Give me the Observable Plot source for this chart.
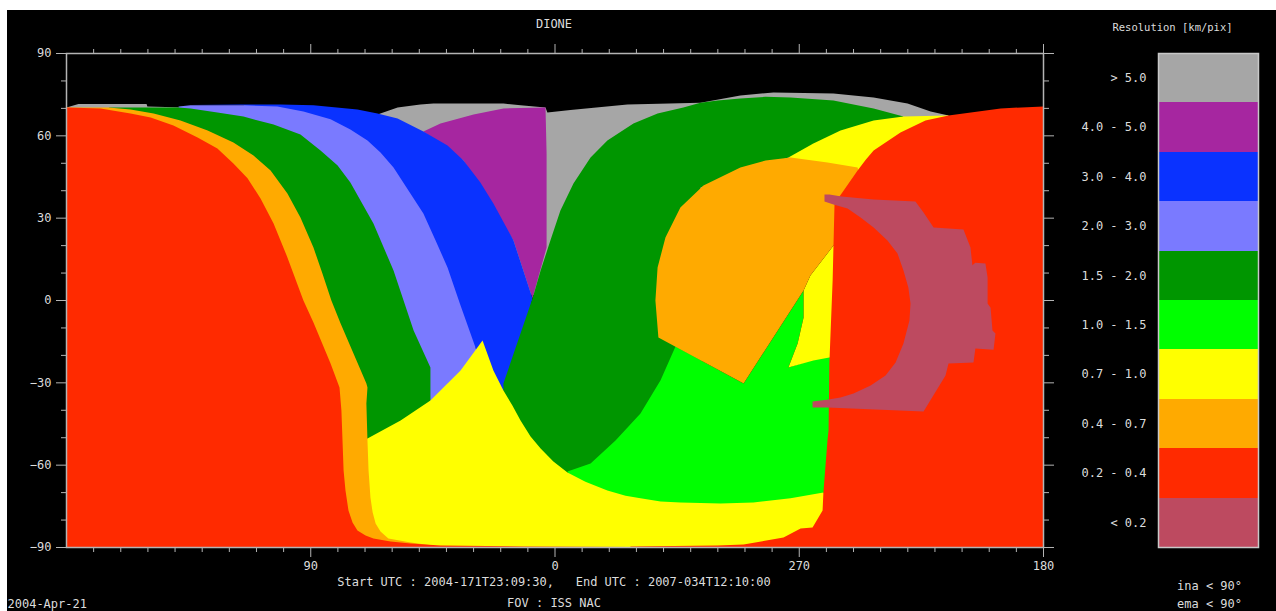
<!DOCTYPE html>
<html><head><meta charset="utf-8">
<script src="https://cdn.jsdelivr.net/npm/d3@7"></script>
<script src="https://cdn.jsdelivr.net/npm/@observablehq/plot@0.6"></script>
<style>
html,body{margin:0;padding:0;background:#fff;width:1276px;height:611px;overflow:hidden}
#map{position:absolute;left:7px;top:10px}
#key{position:absolute;left:1076px;top:10px}
svg{display:block}
</style></head><body>
<div id="map"></div><div id="key"></div>
<script>
// Longitude position along the map axis (0..360, labelled 180,90,0,270,180) and latitude
const gray=[[0,70.3],[4.4,71.6],[29.5,71.6],[29.8,70.7],[86.2,69.2],[114.6,67.8],[122,70.3],[130.4,71.4],[135.2,71.8],[161,71.8],[167.3,71.1],[176.5,70.3],[177.2,68.5],[185.7,69.4],[206.7,71.4],[233.6,72.1],[248.3,74.7],[260.5,75.8],[282.6,75.4],[297.4,74],[309.9,71.8],[318.4,68.9],[325,67.4],[325,60],[196.8,0],[176.9,0],[86.2,36.4],[0,60]];
const purple=[[131.5,61.6],[137.8,64.5],[150,67.8],[161,70],[176.5,70.3],[176.9,53.6],[176.9,19.3],[171.7,0.7],[164.7,21.9],[146.3,51]];
const blue=[[45.7,71.2],[64.1,71.4],[78.9,71.4],[91,71.1],[107.2,69.6],[114.6,68.1],[122,66.3],[131.5,61.6],[140.4,56.5],[146.3,51],[152.5,43],[157.3,35.3],[164.7,21.9],[171.7,0.7],[166,-21.9],[161,-33],[156,-33],[150.7,-17.1],[123.1,0],[86.2,54.7],[65.2,71.1]];
const periwinkle=[[41.3,70.7],[45.7,71.1],[65.2,71.1],[77.7,70.7],[87.3,68.9],[97.3,66],[104.6,62.3],[110.9,58.3],[115.7,53.9],[120.5,48.5],[126,40.1],[131.5,31.7],[136,21.9],[140.4,12],[145.2,-1.8],[150.7,-17.1],[153.3,-25.5],[134.9,-40],[130,-36],[86.2,47.4],[41.3,70.3]];
const greenLeft=[[15.5,70.3],[29.8,70.3],[41.3,70.3],[45.7,70],[55.6,68.5],[65.2,67],[76.3,64.1],[86.2,60.5],[93.6,54.7],[99.9,49.2],[104.6,43],[113.1,28.1],[120.5,10.9],[127.9,-10.9],[134.1,-24.4],[134.1,-40],[105,-56],[90,0],[49.4,54.7]];
const greenMid=[[161,-30.2],[171.7,0.7],[174.7,10.9],[178.3,21.9],[182,32.8],[186.8,42.6],[193.1,52.1],[199.3,58.3],[208.9,64.5],[217.8,68.1],[227.3,70.3],[233.6,72.1],[239.9,72.9],[248.3,73.6],[257.6,74.2],[266.8,74],[282.6,72.9],[297.4,70],[308.4,67],[297.4,60.1],[266,52.1],[233.6,41.2],[235,-20],[225,-45],[205,-62],[193,-70],[184.6,-66],[175,-58],[165,-45],[161,-33.5]];
const lime=[[184.6,-62.3],[193.1,-59.4],[202.3,-51],[211.5,-41.2],[218.9,-29.1],[224.4,-16.8],[249.5,-30.2],[271.6,3.6],[271.6,-6.2],[269.4,-15.7],[266,-24.4],[275.2,-21.5],[285,-19.5],[285,-68],[279,-74],[266.8,-77],[253.1,-78],[226.2,-78],[211.5,-76],[199.3,-73],[188,-68]];
const yellowMain=[[105,-52],[110.9,-50.3],[123.1,-43.7],[134.1,-36.4],[145.2,-25.5],[153.3,-14.6],[157.3,-25.5],[161,-32.8],[164.3,-38.3],[167.3,-43.7],[171,-49.6],[174.7,-53.9],[179.4,-58.7],[184.6,-62.7],[191.2,-66],[199.3,-69.2],[206,-71.1],[211.5,-72.1],[218.9,-73.2],[226.2,-73.6],[241,-74],[253.1,-73.6],[266.8,-72.1],[278.9,-70],[282,-76.5],[278,-84],[270.5,-86],[264.2,-88],[249.5,-89.6],[207.8,-89.8],[168.4,-89.9],[137.8,-89.8],[105,-89]];
const yellowUpper=[[325,67.4],[308.4,67],[297.4,65.6],[285.2,61.9],[275.2,57.2],[266,52.1],[291.5,46],[300,48],[320,60]];
const yellowSmall=[[282.6,20],[274.1,9.1],[271.6,3.6],[271.6,-6.2],[269.4,-15.7],[266,-24.4],[275.2,-21.9],[285,-20],[285,20]];
const orangeLeft=[[0,70.3],[15.5,70.3],[23.6,69.6],[32.1,68.1],[42,65.6],[52,61.9],[61.5,57.6],[68.9,52.8],[75.2,47.4],[81.4,39],[86.2,30.2],[91,19.3],[94.3,9.8],[97.6,0],[101,-8.4],[110.5,-30.2],[110.9,-31.7],[110.5,-37.5],[110.9,-51],[111.3,-61.9],[112,-71.8],[112.8,-77.2],[113.9,-81.3],[115.7,-84.2],[118.6,-86.7],[126.8,-88.2],[137.8,-89.6],[86.2,-89.6],[0,-89.6]];
const orangeMid=[[218.1,-13.5],[217,0],[217.8,12],[220.7,23],[226.2,33.9],[234.7,41.9],[248.3,48.5],[257.6,51],[266.8,52.1],[280.4,50.3],[291.5,48.5],[296,30],[290,20],[282.6,20],[274.1,9.1],[271.6,3.6],[249.5,-30.2]];
const redLeft=[[0,70.3],[12.5,70],[23.6,68.1],[31,66.7],[39.4,63.8],[48.3,59.4],[55.6,55.4],[61.5,49.9],[66.7,44.5],[71.5,37.2],[76.3,28.1],[81.4,15.7],[87.3,0],[91,-8],[97.3,-23],[100.6,-31.7],[101.3,-40.1],[102.1,-61.9],[102.8,-69.2],[103.9,-76.5],[105.4,-80.9],[107.2,-83.8],[110.2,-85.6],[113.1,-86.7],[119.4,-87.8],[126.8,-88.5],[137.8,-89.3],[168.4,-89.6],[207.8,-89.8],[207.8,-90],[0,-90]];
const redRight=[[325,67.4],[344.2,70],[360,70.7],[360,-90],[207.8,-90],[207.8,-89.6],[239.9,-89.3],[249.5,-88.9],[264.2,-86.4],[270.5,-83.1],[274.9,-82.7],[278.6,-76.5],[278.9,-70],[280.4,-51],[280.8,-47.4],[281.1,-23],[282.3,7.3],[283,35.3],[285.6,39],[291.5,47.4],[294.5,51.3],[297.4,54.7],[307.3,61.2],[316.5,65.6]];
const rose=[[279.3,38.6],[281.1,38.6],[285.6,37.9],[297.4,36.8],[312.8,36.1],[315.8,32.1],[319.5,26.6],[330.5,25.9],[333.1,19.3],[333.8,12.8],[334.9,13.8],[338.6,13.5],[339.4,8.4],[339.4,-1.1],[340.5,-2.6],[341.2,-10.9],[342.3,-12],[341.6,-17.9],[334.9,-17.5],[334.2,-22.6],[325,-23],[323.9,-27.3],[315.8,-40.4],[280.4,-39],[274.9,-39],[274.9,-36.8],[280.8,-36.1],[285.2,-35.3],[290,-33.9],[296.3,-31],[301.8,-27.3],[305.5,-22.6],[308.4,-15.7],[310.6,-7.3],[311,-1.1],[310.2,4.7],[308.4,10.9],[306.2,17.1],[302.5,21.9],[297.4,26.6],[292.6,30.2],[287.8,33.5],[282.6,35],[279.3,36.1]];

const legendLabels=["> 5.0","4.0 - 5.0","3.0 - 4.0","2.0 - 3.0","1.5 - 2.0","1.0 - 1.5","0.7 - 1.0","0.4 - 0.7","0.2 - 0.4","< 0.2"];
const palette={gray:"#a6a6a6",purple:"#a626a0",blue:"#0a32ff",periwinkle:"#7a7aff",green:"#009600",lime:"#00ff00",yellow:"#ffff00",orange:"#ffaa00",red:"#ff2a00",rose:"#bd4a60"};
const legendColors=[palette.gray,palette.purple,palette.blue,palette.periwinkle,palette.green,palette.lime,palette.yellow,palette.orange,palette.red,palette.rose];

const xMajor=[90,180,270,360];
const xMajorLabels={90:"90",180:"0",270:"270",360:"180"};
const xMinor=d3.range(10,360,10).filter(d=>d%90!==0);
const yMajor=[-90,-60,-30,0,30,60,90];
const yMinor=d3.range(-80,90,10).filter(d=>d%30!==0);

const layers=[[gray,palette.gray],[purple,palette.purple],[blue,palette.blue],[periwinkle,palette.periwinkle],[greenLeft,palette.green],[greenMid,palette.green],[lime,palette.lime],[yellowSmall,palette.yellow],[yellowMain,palette.yellow],[yellowUpper,palette.yellow],[orangeLeft,palette.orange],[orangeMid,palette.orange],[redLeft,palette.red],[redRight,palette.red],[rose,palette.rose]];

const axisColor="#b4b4b4", textColor="#dcdcdc", blank=()=>"";
const font={fontFamily:"'DejaVu Sans Mono',monospace",fontSize:"12px",background:"black",color:textColor};
const label=(s,anchor,dx,dy,extra={})=>Plot.text([s],{frameAnchor:anchor,lineAnchor:"middle",dx,dy,fill:textColor,...extra});

const map=Plot.plot({
  width:1269,height:601,marginLeft:59,marginRight:233,marginTop:43,marginBottom:64,
  style:font,
  x:{domain:[0,360]},y:{domain:[-90,90]},
  marks:[
    ...layers.map(([pts,c])=>Plot.line(pts,{x:d=>d[0],y:d=>d[1],fill:c,stroke:"none"})),
    Plot.frame({stroke:axisColor,strokeWidth:1.5}),
    Plot.axisX(xMajor,{anchor:"bottom",tickSize:10,tickPadding:4,stroke:axisColor,fill:textColor,tickFormat:d=>xMajorLabels[d],label:null}),
    Plot.axisX(xMinor,{anchor:"bottom",tickSize:5,stroke:axisColor,tickFormat:blank,label:null}),
    Plot.axisX(xMajor,{anchor:"top",tickSize:10,stroke:axisColor,tickFormat:blank,label:null}),
    Plot.axisX(xMinor,{anchor:"top",tickSize:5,stroke:axisColor,tickFormat:blank,label:null}),
    Plot.axisY(yMajor,{anchor:"left",tickSize:10,tickPadding:5,stroke:axisColor,fill:textColor,tickFormat:d=>String(d).replace("-","\u2212"),label:null}),
    Plot.axisY(yMinor,{anchor:"left",tickSize:5,stroke:axisColor,tickFormat:blank,label:null}),
    Plot.axisY(yMajor,{anchor:"right",tickSize:10,stroke:axisColor,tickFormat:blank,label:null}),
    Plot.axisY(yMinor,{anchor:"right",tickSize:5,stroke:axisColor,tickFormat:blank,label:null}),
    label("DIONE","top",-1,-29),
    label("Start UTC : 2004-171T23:09:30,   End UTC : 2007-034T12:10:00","bottom",-1,35),
    label("FOV : ISS NAC","bottom",-1,56),
    label("2004-Apr-21","bottom-left",-59,57)
  ]
});
document.getElementById("map").append(map);

const key=Plot.plot({
  width:200,height:601,marginLeft:82,marginRight:18,marginTop:43,marginBottom:64,
  style:{...font,background:"transparent"},
  x:{axis:null,domain:["band"],padding:0,round:false},
  y:{domain:legendLabels,padding:0,round:false,label:null,tickSize:0,tickPadding:12},
  color:{domain:legendLabels,range:legendColors},
  marks:[
    Plot.cell(legendLabels,{x:()=>"band",y:d=>d,fill:d=>d,shapeRendering:"crispEdges"}),
    Plot.frame({stroke:"#c8c8c8",strokeWidth:1.5}),
    label("Resolution [km/pix]","top",-36,-26,{fontSize:10.5}),
    label("ina < 90\u00b0","bottom",1,39),
    label("ema < 90\u00b0","bottom",1,57)
  ]
});
document.getElementById("key").append(key);
</script></body></html>
